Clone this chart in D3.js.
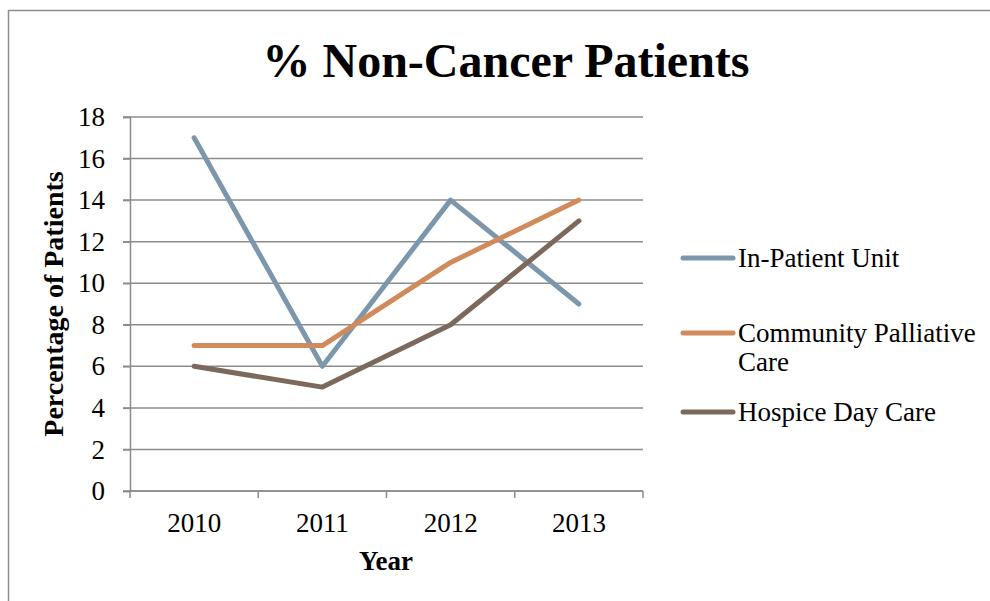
<!DOCTYPE html>
<html>
<head>
<meta charset="utf-8">
<script src="https://cdn.jsdelivr.net/npm/d3@7"></script>
<style>
  body { margin: 0; background: #fff; }
  text { font-family: "Liberation Serif", "DejaVu Serif", serif; fill: #000; }
</style>
</head>
<body>
<div id="chart"></div>
<script>
const years = ["2010", "2011", "2012", "2013"];
const inPatient = [17, 6, 14, 9];
const community = [7, 7, 11, 14];
const hospice = [6, 5, 8, 13];
const yTicks = [0, 2, 4, 6, 8, 10, 12, 14, 16, 18];

const series = [
  { name: ["In-Patient Unit"], values: inPatient, color: "#7c97ab" },
  { name: ["Community Palliative", "Care"], values: community, color: "#d08a5b" },
  { name: ["Hospice Day Care"], values: hospice, color: "#7d695c" }
];

const W = 990, H = 601;
const plot = { left: 130, top: 117, right: 643, bottom: 491 };
const grey = "#8c8c8c";

const svg = d3.select("#chart")
  .append("svg")
    .attr("width", W)
    .attr("height", H);

// outer frame
svg.append("rect")
  .attr("x", 8.5).attr("y", 10.5)
  .attr("width", W + 10).attr("height", H + 10)
  .attr("fill", "none")
  .attr("stroke", grey)
  .attr("stroke-width", 1.5);

const x = d3.scaleBand()
  .domain(years)
  .range([plot.left, plot.right]);

const y = d3.scaleLinear()
  .domain([0, 18])
  .range([plot.bottom, plot.top]);

// gridlines
svg.append("g")
  .selectAll("line")
  .data(yTicks)
  .join("line")
    .attr("x1", plot.left - 7)
    .attr("x2", plot.right)
    .attr("y1", d => y(d))
    .attr("y2", d => y(d))
    .attr("stroke", grey)
    .attr("stroke-width", 1.5);

// y axis
const yAxis = svg.append("g")
  .attr("transform", `translate(${plot.left},0)`)
  .call(d3.axisLeft(y).tickValues(yTicks).tickSize(7).tickPadding(18));
yAxis.select(".domain").attr("stroke", grey).attr("stroke-width", 1.5);
yAxis.selectAll(".tick line").attr("stroke", grey).attr("stroke-width", 1.5);
yAxis.selectAll(".tick text")
  .attr("font-size", 27)
  .attr("font-family", "Liberation Serif, serif");

// x axis
const xAxis = svg.append("g")
  .attr("transform", `translate(0,${plot.bottom})`)
  .call(d3.axisBottom(x).tickSize(0).tickPadding(22));
xAxis.select(".domain").attr("stroke", grey).attr("stroke-width", 1.5)
  .attr("d", `M${plot.left},0H${plot.right}`);
xAxis.selectAll(".tick text")
  .attr("font-size", 27)
  .attr("font-family", "Liberation Serif, serif");

// category boundary ticks
const bounds = years.map(d => x(d)).concat([x(years[years.length - 1]) + x.bandwidth()]);
svg.append("g")
  .selectAll("line")
  .data(bounds)
  .join("line")
    .attr("x1", d => d)
    .attr("x2", d => d)
    .attr("y1", plot.bottom)
    .attr("y2", plot.bottom + 7)
    .attr("stroke", grey)
    .attr("stroke-width", 1.5);

// lines
const line = d3.line()
  .x((d, i) => x(years[i]) + x.bandwidth() / 2)
  .y(d => y(d));

svg.append("g")
  .selectAll("path")
  .data(series)
  .join("path")
    .attr("d", d => line(d.values))
    .attr("fill", "none")
    .attr("stroke", d => d.color)
    .attr("stroke-width", 5)
    .attr("stroke-linecap", "round")
    .attr("stroke-linejoin", "round");

// title
svg.append("text")
  .attr("x", 506)
  .attr("y", 77)
  .attr("text-anchor", "middle")
  .attr("font-size", 48)
  .attr("font-weight", "bold")
  .text("% Non-Cancer Patients");

// axis titles
svg.append("text")
  .attr("transform", "translate(63,304) rotate(-90)")
  .attr("text-anchor", "middle")
  .attr("font-size", 28)
  .attr("font-weight", "bold")
  .text("Percentage of Patients");

svg.append("text")
  .attr("x", 386)
  .attr("y", 570)
  .attr("text-anchor", "middle")
  .attr("font-size", 27)
  .attr("font-weight", "bold")
  .text("Year");

// legend
const legendY = [258, 333, 412];
const legend = svg.append("g")
  .selectAll("g")
  .data(series)
  .join("g")
    .attr("transform", (d, i) => `translate(683,${legendY[i]})`);

legend.append("line")
  .attr("x1", 0).attr("x2", 50)
  .attr("stroke", d => d.color)
  .attr("stroke-width", 5)
  .attr("stroke-linecap", "round");

legend.append("text")
  .attr("font-size", 27)
  .selectAll("tspan")
  .data(d => d.name)
  .join("tspan")
    .attr("x", 55)
    .attr("y", (d, i) => 9 + i * 29)
    .text(d => d);
</script>
</body>
</html>
